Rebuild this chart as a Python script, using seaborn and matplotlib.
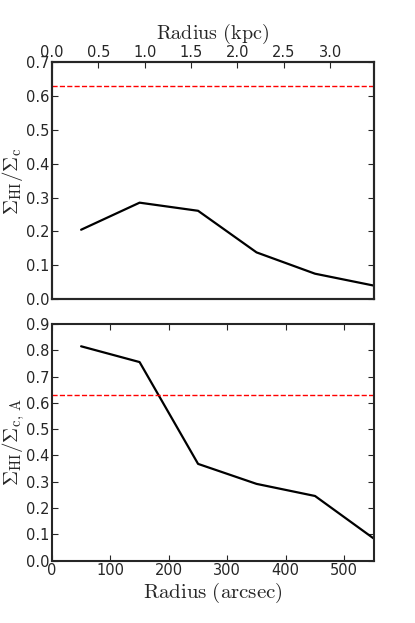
import numpy as np
import pandas as pd
import matplotlib
matplotlib.use('Agg')
import matplotlib.pyplot as plt
import seaborn as sns

# radial profiles (arcsec)
radius = [50, 150, 250, 350, 450, 550]
ratio_c = [0.205, 0.285, 0.261, 0.138, 0.075, 0.040]
ratio_cA = [0.815, 0.755, 0.368, 0.292, 0.246, 0.085]
threshold = 0.63
arcsec_per_kpc = 158.7
kpc_ticks = [0.0, 0.5, 1.0, 1.5, 2.0, 2.5, 3.0]

sns.set_style('ticks')
plt.rcParams['mathtext.fontset'] = 'cm'
plt.rcParams['font.family'] = ['DejaVu Sans']
plt.rcParams['axes.linewidth'] = 1.5
plt.rcParams['xtick.direction'] = 'in'
plt.rcParams['ytick.direction'] = 'in'
plt.rcParams['xtick.major.size'] = 4
plt.rcParams['ytick.major.size'] = 4
plt.rcParams['xtick.labelsize'] = 10.5
plt.rcParams['ytick.labelsize'] = 10.5

df = pd.DataFrame({'radius': radius, 'c': ratio_c, 'cA': ratio_cA})

fig, (ax1, ax2) = plt.subplots(2, 1, figsize=(4.15, 6.23), dpi=100)
fig.subplots_adjust(left=0.125, right=0.9, top=0.9, bottom=0.1, hspace=0.105)

# top panel
sns.lineplot(data=df, x='radius', y='c', ax=ax1, color='black', lw=1.6)
ax1.axhline(threshold, color='red', ls='--', lw=1)
ax1.set_xlim(0, 550)
ax1.set_ylim(0, 0.7)
ax1.set_yticks(np.arange(0, 0.71, 0.1))
ax1.set_xticks([])
ax1.set_xlabel('')
ax1.set_ylabel(r'$\Sigma_{\rm HI}/\Sigma_{\rm c}$', fontsize=15)
ax1.yaxis.set_label_coords(-0.085, 0.5)
ax1.yaxis.set_ticks_position('both')

top = ax1.twiny()
top.set_xlim(0, 550 / arcsec_per_kpc)
top.set_xticks(kpc_ticks)
top.set_xticklabels([f'{t:.1f}' for t in kpc_ticks])
top.set_xlabel(r'$\mathrm{Radius\ (kpc)}$', fontsize=14.5, labelpad=4)

# bottom panel
sns.lineplot(data=df, x='radius', y='cA', ax=ax2, color='black', lw=1.6)
ax2.axhline(threshold, color='red', ls='--', lw=1)
ax2.set_xlim(0, 550)
ax2.set_ylim(0, 0.9)
ax2.set_yticks(np.arange(0, 0.91, 0.1))
ax2.set_xticks([0, 100, 200, 300, 400, 500])
ax2.set_xlabel(r'$\mathrm{Radius\ (arcsec)}$', fontsize=15, labelpad=2)
ax2.set_ylabel(r'$\Sigma_{\rm HI}/\Sigma_{\rm c,\,A}$', fontsize=15)
ax2.yaxis.set_label_coords(-0.077, 0.5)
ax2.xaxis.set_ticks_position('both')
ax2.yaxis.set_ticks_position('both')

for ax in (ax1, ax2, top):
    ax.tick_params(pad=2)

fig.savefig('out.png', dpi=100)
